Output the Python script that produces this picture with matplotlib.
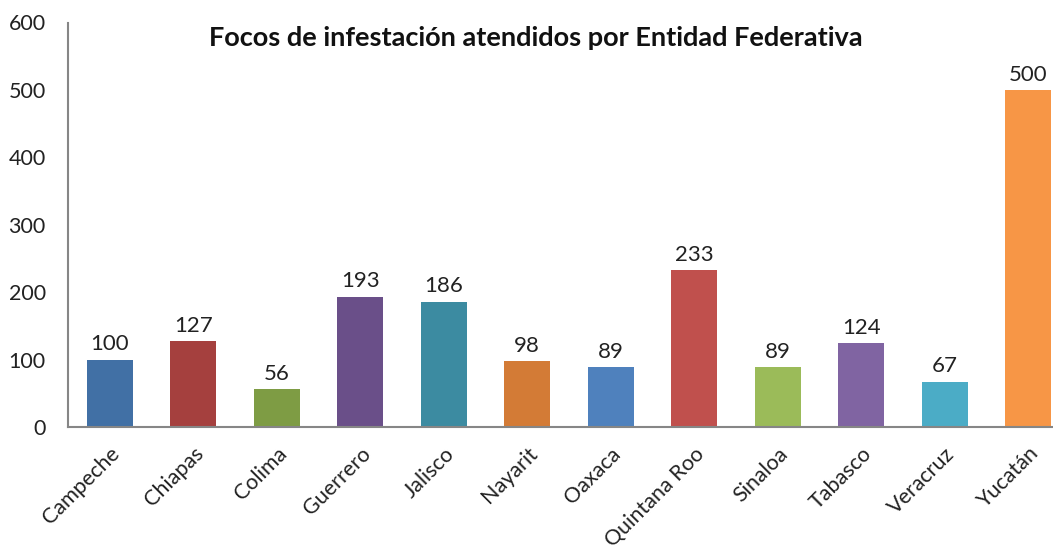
import matplotlib
matplotlib.use("Agg")
import matplotlib.pyplot as plt

estados = ["Campeche", "Chiapas", "Colima", "Guerrero", "Jalisco", "Nayarit",
           "Oaxaca", "Quintana Roo", "Sinaloa", "Tabasco", "Veracruz", "Yucatán"]
focos = [100, 127, 56, 193, 186, 98, 89, 233, 89, 124, 67, 500]
colores = ["#4170A5", "#A5403E", "#7E9C44", "#6A4F89", "#3C8BA1", "#D37B36",
           "#4F81BD", "#C0504D", "#9BBB59", "#8064A2", "#4BACC6", "#F79646"]
yticks = [0, 100, 200, 300, 400, 500, 600]

plt.rcParams['font.family'] = ['Lato', 'DejaVu Sans']

fig = plt.figure(figsize=(10.53, 5.5), dpi=100)
ax = fig.add_axes([68/1053, 123/550, 1002/1053, 404.5/550])

x = list(range(len(estados)))
bars = ax.bar(x, focos, width=0.55, color=colores)
for xi, v in zip(x, focos):
    ax.text(xi, v + 8, str(v), ha='center', va='bottom', fontsize=16, color='#222222')

ax.set_xlim(-0.5, len(estados) - 0.5)
ax.set_ylim(0, 600)
ax.set_yticks(yticks)
ax.set_yticklabels([str(t) for t in yticks], fontsize=15.5, color='#222222')
ax.set_xticks(x)
ax.set_xticklabels(estados, rotation=45, ha='right', rotation_mode='anchor', fontsize=15.5, color='#222222')
ax.tick_params(axis='both', length=0)
ax.tick_params(axis='y', pad=16)
ax.tick_params(axis='x', pad=12)
for s in ['top', 'right']:
    ax.spines[s].set_visible(False)
for s in ['left', 'bottom']:
    ax.spines[s].set_color('#868686')
    ax.spines[s].set_linewidth(1.5)

fig.text(536/1053, 1 - 38/550, "Focos de infestación atendidos por Entidad Federativa",
         ha='center', va='center', fontsize=19.5, fontweight='bold', color='#111111')

fig.savefig("out.png", dpi=100)
